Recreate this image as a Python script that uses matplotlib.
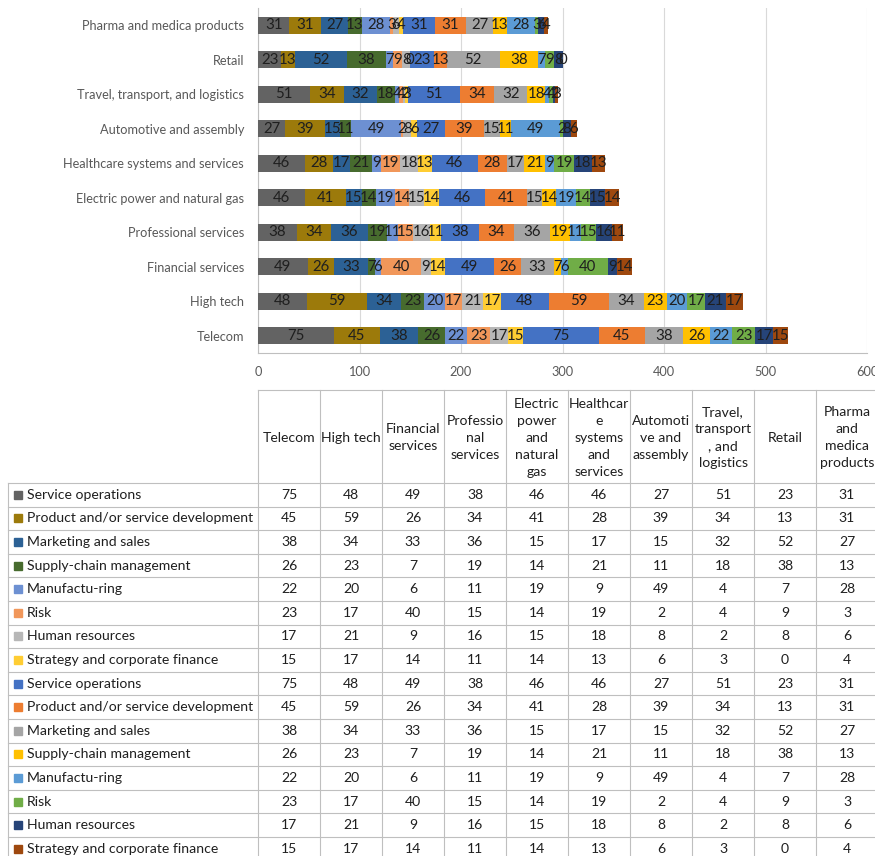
import numpy as np
import matplotlib.pyplot as plt

plt.rcParams['font.family'] = ['Lato', 'DejaVu Sans']

# industries, bottom to top of the bar chart
industries = ["Telecom", "High tech", "Financial services", "Professional services",
              "Electric power and natural gas", "Healthcare systems and services",
              "Automotive and assembly", "Travel, transport, and logistics",
              "Retail", "Pharma and medica products"]

# wrapped headers used in the data table
table_headers = ["Telecom", "High tech", "Financial\nservices", "Professio\nnal\nservices",
                 "Electric\npower\nand\nnatural\ngas", "Healthcar\ne\nsystems\nand\nservices",
                 "Automoti\nve and\nassembly", "Travel,\ntransport\n, and\nlogistics",
                 "Retail", "Pharma\nand\nmedica\nproducts"]

functions = ["Service operations", "Product and/or service development",
             "Marketing and sales", "Supply-chain management", "Manufactu-ring",
             "Risk", "Human resources", "Strategy and corporate finance"]

service_ops   = [75, 48, 49, 38, 46, 46, 27, 51, 23, 31]
product_dev   = [45, 59, 26, 34, 41, 28, 39, 34, 13, 31]
marketing     = [38, 34, 33, 36, 15, 17, 15, 32, 52, 27]
supply_chain  = [26, 23, 7, 19, 14, 21, 11, 18, 38, 13]
manufacturing = [22, 20, 6, 11, 19, 9, 49, 4, 7, 28]
risk          = [23, 17, 40, 15, 14, 19, 2, 4, 9, 3]
human_res     = [17, 21, 9, 16, 15, 18, 8, 2, 8, 6]
strategy      = [15, 17, 14, 11, 14, 13, 6, 3, 0, 4]

base_values = [service_ops, product_dev, marketing, supply_chain,
               manufacturing, risk, human_res, strategy]

# the sheet holds the same eight series twice
series_names = functions + functions
series_values = base_values + base_values
colors = ["#636363", "#9C7A0B", "#2C6195", "#476B2E", "#6D90D2", "#F1975A", "#B7B7B7", "#FFCD33",
          "#4472C4", "#ED7D31", "#A5A5A5", "#FFC000", "#5B9BD5", "#70AD47", "#264478", "#9E480E"]

W, H = 875, 856
fig = plt.figure(figsize=(W / 100, H / 100), dpi=100)

# table drawn in pixel coordinates
tab = fig.add_axes([0, 0, 1, 1])
tab.set_xlim(0, W)
tab.set_ylim(H, 0)
tab.axis("off")

ax = fig.add_axes([258 / W, 1 - 353 / H, (867 - 258) / W, (353 - 8) / H])

y = np.arange(len(industries))
left = np.zeros(len(industries))
for name, vals, c in zip(series_names, series_values, colors):
    vals = np.array(vals, dtype=float)
    bars = ax.barh(y, vals, left=left, height=0.5, color=c, label=name, zorder=3)
    ax.bar_label(bars, labels=[str(int(v)) for v in vals], label_type="center",
                 fontsize=10.8, color="#1f1f1f", zorder=4)
    left += vals

ax.set_xlim(0, 600)
ax.set_ylim(-0.5, 9.5)
ax.set_xticks(range(0, 601, 100))
ax.set_yticks(y)
ax.set_yticklabels(industries)
ax.tick_params(axis="both", length=0, labelsize=9.2, labelcolor="#595959")
ax.tick_params(axis="y", pad=10)
ax.tick_params(axis="x", pad=9)
ax.grid(axis="x", color="#D9D9D9", linewidth=0.8, zorder=0)
for s in ["top", "right"]:
    ax.spines[s].set_visible(False)
for s in ["left", "bottom"]:
    ax.spines[s].set_color("#BFBFBF")
    ax.spines[s].set_linewidth(0.8)

# data table
line_c = "#BFBFBF"
txt_c = "#1f1f1f"
fs = 10.1
label_x0, col_x0, col_w = 8, 258, 62
head_top, head_bot = 390, 483
row_h = 23.6
n_cols = len(industries)
n_rows = len(series_names)
col_edges = [col_x0 + i * col_w for i in range(n_cols + 1)]
tab_bot = head_bot + n_rows * row_h

# header cells
tab.plot([col_edges[0], col_edges[-1]], [head_top, head_top], color=line_c, lw=0.8)
for xe in col_edges:
    tab.plot([xe, xe], [head_top, tab_bot], color=line_c, lw=0.8)
tab.plot([label_x0, label_x0], [head_bot, tab_bot], color=line_c, lw=0.8)
for j, h in enumerate(table_headers):
    tab.text(col_edges[j] + col_w / 2, (head_top + head_bot) / 2 + 1, h, ha="center", va="center",
             fontsize=fs, color=txt_c, linespacing=1.5)

# body rows
for i, (name, vals, c) in enumerate(zip(series_names, series_values, colors)):
    top = head_bot + i * row_h
    tab.plot([label_x0, col_edges[-1]], [top, top], color=line_c, lw=0.8)
    yc = top + row_h / 2
    tab.add_patch(plt.Rectangle((14, yc - 4), 8, 8, color=c))
    tab.text(27, yc, name, ha="left", va="center", fontsize=fs, color=txt_c)
    for j, v in enumerate(vals):
        tab.text(col_edges[j] + col_w / 2, yc, str(v), ha="center", va="center",
                 fontsize=fs, color=txt_c)
tab.plot([label_x0, col_edges[-1]], [tab_bot, tab_bot], color=line_c, lw=0.8)

fig.savefig("out.png", dpi=100, facecolor="white")
